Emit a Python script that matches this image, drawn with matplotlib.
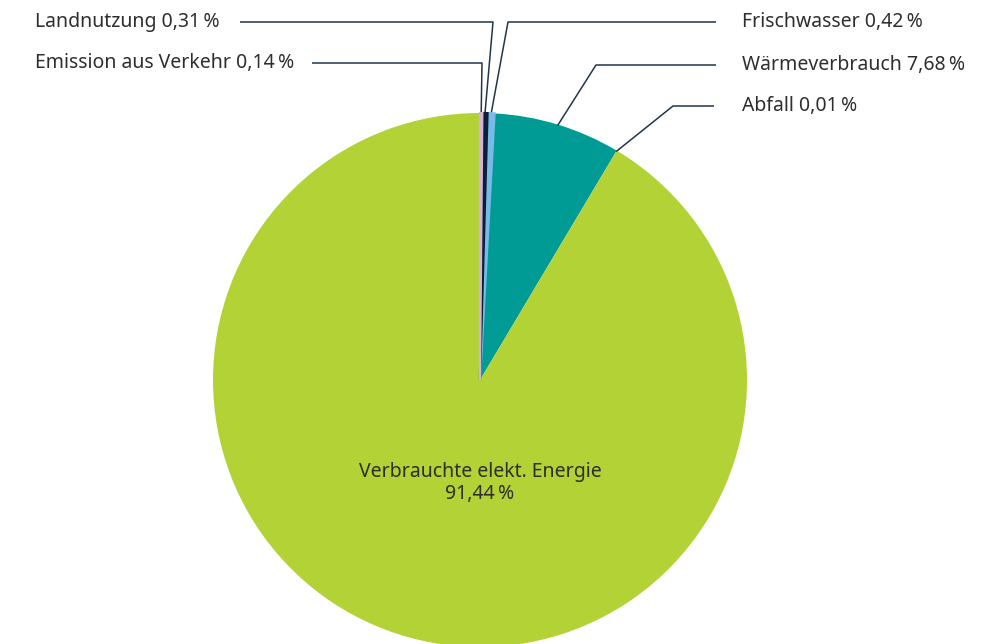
import numpy as np
import matplotlib
matplotlib.use("Agg")
import matplotlib.pyplot as plt

plt.rcParams['font.family'] = ['Noto Sans', 'DejaVu Sans']

# data, clockwise from 12 o'clock
labels = ["Emission aus Verkehr", "Landnutzung", "Frischwasser",
          "Wärmeverbrauch", "Abfall", "Verbrauchte elekt. Energie"]
values = [0.14, 0.31, 0.42, 7.68, 0.01, 91.44]
colors = ["#d7b2d4", "#0a1e38", "#79bbe8", "#009b94", "#009b94", "#b2d235"]

W, H = 995, 644
cx, cy, R = 480, H - 380, 267

fig = plt.figure(figsize=(W / 100, H / 100), dpi=100)
ax = fig.add_axes([0, 0, 1, 1])

wedges, _ = ax.pie(values, colors=colors, startangle=90, counterclock=False,
                   center=(cx, cy), radius=R,
                   wedgeprops=dict(linewidth=0))
# tiny slices get an outline in their own colour so they stay visible
for i, (w, v, c) in enumerate(zip(wedges, values, colors)):
    if 0.1 < v < 1:
        w.set_edgecolor(c)
        w.set_linewidth(1.6)
        w.set_zorder(5 - i)
ax.set_xlim(0, W)
ax.set_ylim(0, H)
ax.set_aspect("equal")
ax.axis("off")


def fmt(v):
    return f"{v:.2f}".replace(".", ",") + "\u202f%"


# label layout: (text x, text y, elbow x, elbow y, line end x)  in pixel coords
layout = {
    "Emission aus Verkehr": (35, 63, 482, 63, 312),
    "Landnutzung": (35, 22, 493, 22, 240),
    "Frischwasser": (742, 22, 508, 22, 716),
    "Wärmeverbrauch": (742, 65, 596, 65, 716),
    "Abfall": (742, 106, 673, 106, 714),
}

line_col = "#22364a"
text_col = "#2e2e2e"

for w, lab, val in zip(wedges, labels, values):
    if lab not in layout:
        continue
    tx, ty, ex, ey, lx = layout[lab]
    mid = np.deg2rad((w.theta1 + w.theta2) / 2)
    px = cx + (R - 1) * np.cos(mid)
    py = cy + (R - 1) * np.sin(mid)
    ax.plot([px, ex, lx], [py, H - ey, H - ey], color=line_col, lw=1.1,
            solid_capstyle="butt", zorder=1)
    ax.text(tx, H - ty, f"{lab} {fmt(val)}", ha="left", va="center",
            fontsize=14, color=text_col)

# main slice label inside the pie
ax.text(cx, cy - 103, f"{labels[-1]}\n{fmt(values[-1])}", ha="center",
        va="center", fontsize=14, color=text_col, linespacing=1.2)

fig.savefig("out.png", dpi=100, facecolor="white")
